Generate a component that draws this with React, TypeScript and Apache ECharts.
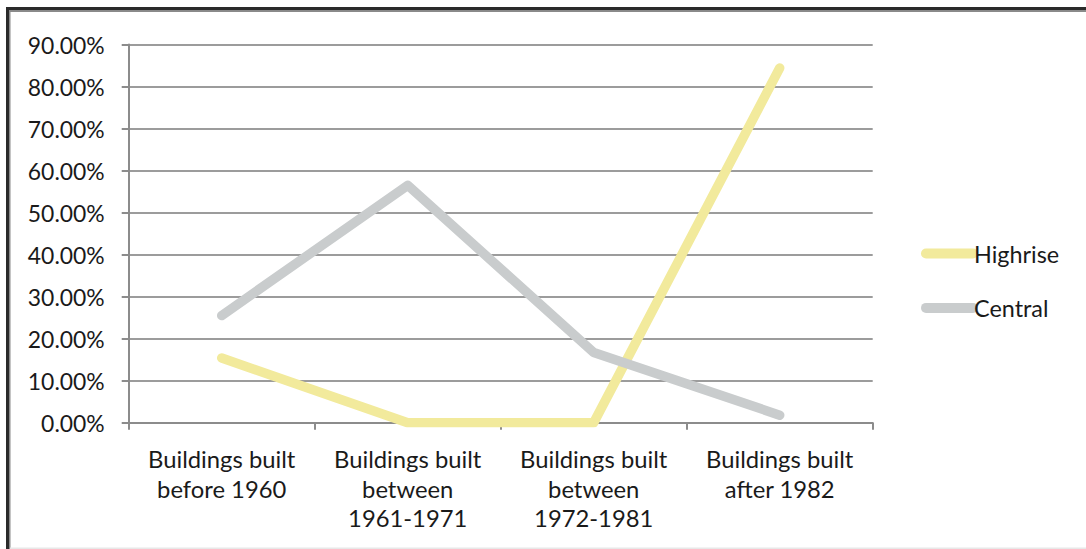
import React, { useEffect, useRef } from "react";
import * as echarts from "echarts";

const categories = [
  "Buildings built\nbefore 1960",
  "Buildings built\nbetween\n1961-1971",
  "Buildings built\nbetween\n1972-1981",
  "Buildings built\nafter 1982",
];
const highrise = [15.4, 0, 0, 84.4];
const central = [25.5, 56.5, 16.7, 1.8];
const seriesNames = ["Highrise", "Central"];
const seriesColors = ["#f2ea9c", "#c9cccd"];

export default function App() {
  const ref = useRef<HTMLDivElement>(null);
  useEffect(() => {
    document.body.style.margin = "0";
    const chart = echarts.init(ref.current!, null, { renderer: "svg" });
    const font = "Lato";
    chart.setOption({
      animation: false,
      backgroundColor: "#ffffff",
      grid: { left: 128.7, right: 213.3, top: 44.5, bottom: 126.3, containLabel: false },
      legend: {
        orient: "vertical",
        left: 916,
        top: 237,
        itemWidth: 57,
        itemHeight: 10,
        itemGap: 31.4,
        icon: "path://M5,0 L52,0 A5,5 0 0 1 52,10 L5,10 A5,5 0 0 1 5,0 Z",
        textStyle: { fontFamily: font, fontSize: 23.4, color: "#1a1a1a", padding: [0, 0, 0, -9] },
        data: seriesNames,
      },
      xAxis: {
        type: "category",
        data: categories,
        boundaryGap: true,
        axisLine: { lineStyle: { color: "#8c8c8c", width: 2 } },
        axisTick: { show: true, length: 7, interval: 0, lineStyle: { color: "#8c8c8c", width: 2 } },
        axisLabel: {
          interval: 0,
          margin: 22,
          fontFamily: font,
          fontSize: 23.8,
          lineHeight: 29.5,
          color: "#1a1a1a",
          align: "center",
        },
      },
      yAxis: {
        type: "value",
        min: 0,
        max: 90,
        interval: 10,
        axisLine: { show: true, lineStyle: { color: "#8c8c8c", width: 2 } },
        axisTick: { show: true, length: 7, lineStyle: { color: "#8c8c8c", width: 2 } },
        splitLine: { lineStyle: { color: "#9c9c9c", width: 2 } },
        axisLabel: {
          margin: 24,
          fontFamily: font,
          fontSize: 22.9,
          color: "#1a1a1a",
          formatter: (v: number) => v.toFixed(2) + "%",
        },
      },
      series: [
        {
          name: seriesNames[0],
          type: "line",
          data: highrise,
          showSymbol: false,
          symbol: "none",
          color: seriesColors[0],
          lineStyle: { width: 9.5, color: seriesColors[0], cap: "round", join: "round" },
        },
        {
          name: seriesNames[1],
          type: "line",
          data: central,
          showSymbol: false,
          symbol: "none",
          color: seriesColors[1],
          lineStyle: { width: 9.5, color: seriesColors[1], cap: "round", join: "round" },
        },
      ],
      graphic: [
        { type: "rect", shape: { x: 6, y: 7, width: 1080, height: 3 }, style: { fill: "#2a2a2a" }, silent: true },
        { type: "rect", shape: { x: 9, y: 10, width: 1077, height: 2 }, style: { fill: "#8a8a8a" }, silent: true },
        { type: "rect", shape: { x: 6, y: 7, width: 3, height: 542 }, style: { fill: "#2a2a2a" }, silent: true },
        { type: "rect", shape: { x: 9, y: 10, width: 1.5, height: 539 }, style: { fill: "#8a8a8a" }, silent: true },
        { type: "rect", shape: { x: 10, y: 547.5, width: 1076, height: 1.5 }, style: { fill: "#e8e8e8" }, silent: true },
      ],
    });
    return () => chart.dispose();
  }, []);
  return <div ref={ref} style={{ width: 1086, height: 549 }} />;
}
